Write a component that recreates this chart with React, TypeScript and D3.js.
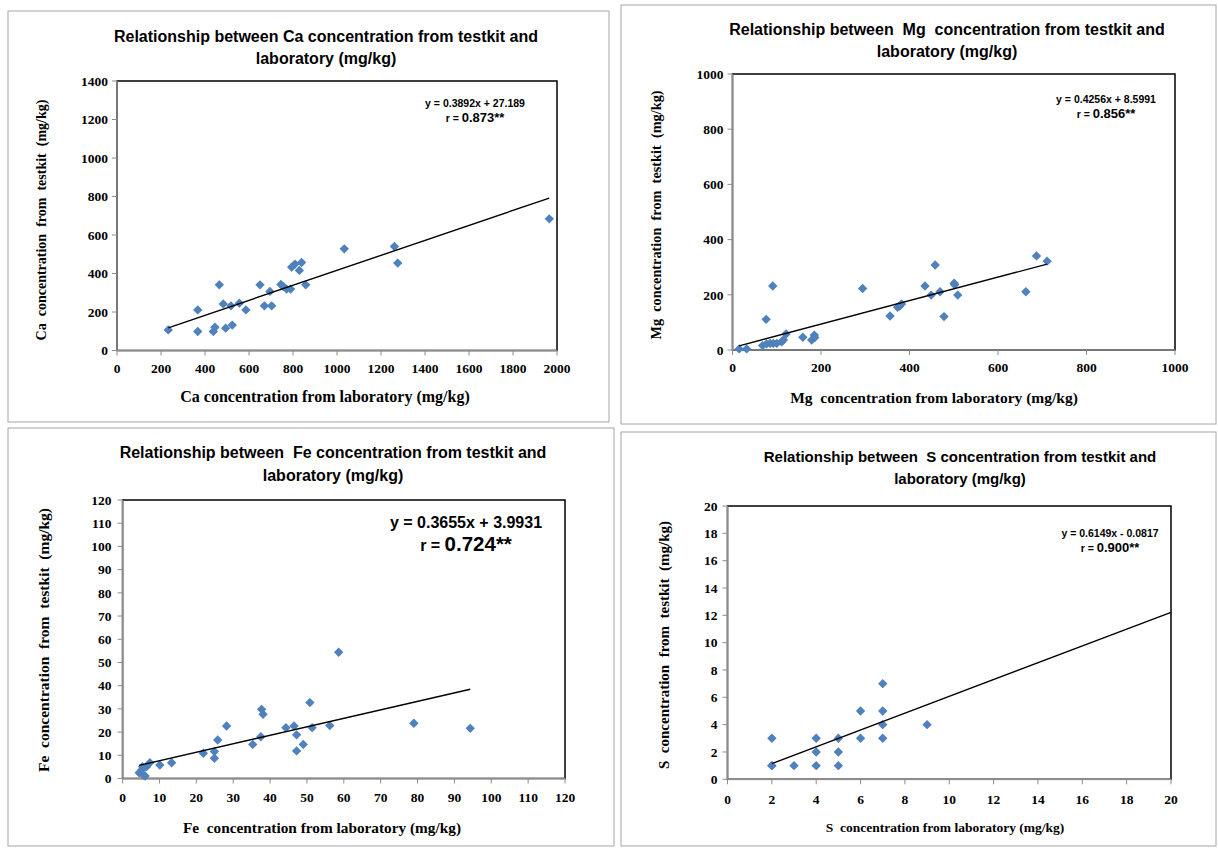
import React from "react";
import * as d3 from "d3";

// Ca (mg/kg)
const caLab = [233, 367, 367, 465, 438, 445, 483, 494, 518, 524, 556, 586, 650, 670, 703, 695, 745, 756, 771, 789, 794, 809, 829, 839, 858, 1033, 1261, 1276, 1965];
const caKit = [107, 99, 211, 341, 99, 121, 242, 116, 232, 132, 246, 211, 341, 232, 232, 307, 343, 333, 319, 319, 433, 449, 416, 457, 341, 528, 540, 454, 684];
const caFit = [0.3892, 27.189];
const caXTicks = [0, 200, 400, 600, 800, 1000, 1200, 1400, 1600, 1800, 2000];
const caYTicks = [0, 200, 400, 600, 800, 1000, 1200, 1400];

// Mg (mg/kg)
const mgLab = [15, 32, 68, 77, 85, 92, 100, 111, 115, 121, 76, 91, 159, 179, 185, 186, 294, 356, 373, 378, 382, 435, 449, 458, 469, 478, 501, 502, 509, 663, 687, 711];
const mgKit = [4, 4, 16, 22, 24, 24, 24, 30, 36, 58, 111, 232, 46, 36, 54, 45, 223, 123, 155, 159, 167, 232, 199, 308, 211, 121, 242, 236, 199, 211, 341, 322];
const mgFit = [0.4256, 8.5991];
const mgXTicks = [0, 200, 400, 600, 800, 1000];
const mgYTicks = [0, 200, 400, 600, 800, 1000];

// Fe (mg/kg)
const feLab = [4.5, 5.2, 5.6, 6.1, 5.4, 6.5, 7.4, 10.1, 13.3, 21.9, 24.9, 24.9, 25.8, 28.2, 35.3, 37.5, 37.7, 38.1, 44.3, 46.5, 47.2, 47.2, 49, 50.8, 51.4, 56.2, 58.6, 79, 94.3];
const feKit = [2.5, 3.7, 1.5, 1.1, 5.1, 5.1, 6.8, 5.8, 6.8, 10.9, 11.6, 8.7, 16.6, 22.6, 14.7, 18, 29.8, 27.7, 21.9, 22.6, 18.8, 11.9, 14.7, 32.7, 21.9, 22.8, 54.4, 23.8, 21.6];
const feFit = [0.3655, 3.9931];
const feXTicks = [0, 10, 20, 30, 40, 50, 60, 70, 80, 90, 100, 110, 120];
const feYTicks = [0, 10, 20, 30, 40, 50, 60, 70, 80, 90, 100, 110, 120];

// S (mg/kg)
const sLab = [2, 2, 2, 3, 4, 4, 4, 5, 5, 5, 6, 6, 7, 7, 7, 7, 9];
const sKit = [1, 1, 3, 1, 1, 2, 3, 1, 2, 3, 3, 5, 3, 4, 5, 7, 4];
const sFit = [0.6149, -0.0817];
const sFitRange = [2, 20]; // trendline carried forward to the axis end
const sXTicks = [0, 2, 4, 6, 8, 10, 12, 14, 16, 18, 20];
const sYTicks = [0, 2, 4, 6, 8, 10, 12, 14, 16, 18, 20];

const serif = "'Liberation Serif', 'Times New Roman', serif";
const sans = "'Liberation Sans', Arial, sans-serif";
const marker = d3.symbol().type(d3.symbolSquare).size(44)();

type PanelProps = {
  box: number[];
  plot: { left: number; right: number; top: number; bottom: number };
  xTicks: number[];
  yTicks: number[];
  xs: number[];
  ys: number[];
  fit: number[];
  fitRange?: number[];
  title: string[];
  titleX: number;
  titleY: number[];
  titleSize: number;
  xLabel: string;
  xLabelPos: number[];
  xLabelSize: number;
  yLabel: string;
  yLabelPos: number[];
  yLabelSize: number;
  eq: string[];
  eqPos: number[];
  eqSizes: number[];
  yLabOff: number;
  xLabOff: number;
};

const Panel = (p: PanelProps) => {
  const { plot } = p;
  const x = d3.scaleLinear().domain(d3.extent(p.xTicks) as [number, number]).range([plot.left, plot.right]);
  const y = d3.scaleLinear().domain(d3.extent(p.yTicks) as [number, number]).range([plot.bottom, plot.top]);
  const [x0, x1] = p.fitRange || (d3.extent(p.xs) as [number, number]);
  const line = d3.line<number>().x((d) => x(d)).y((d) => y(p.fit[0] * d + p.fit[1]));
  const axisColor = "#8c8c8c";

  return (
    <g>
      <rect x={p.box[0]} y={p.box[1]} width={p.box[2] - p.box[0]} height={p.box[3] - p.box[1]} fill="white" stroke="#a6a6a6" strokeWidth={1} />
      <g fontFamily={sans} fontWeight="bold" fontSize={p.titleSize} textAnchor="middle" fill="#000">
        {p.title.map((t, i) => (
          <text key={i} x={p.titleX} y={p.titleY[i]} style={{ whiteSpace: "pre" }}>{t}</text>
        ))}
      </g>
      <rect x={plot.left} y={plot.top} width={plot.right - plot.left} height={plot.bottom - plot.top} fill="white" stroke="#000" strokeWidth={1.5} />
      <line x1={plot.left} x2={plot.left} y1={plot.top} y2={plot.bottom} stroke={axisColor} strokeWidth={1.5} />
      <line x1={plot.left} x2={plot.right} y1={plot.bottom} y2={plot.bottom} stroke={axisColor} strokeWidth={1.5} />
      <g fontFamily={serif} fontWeight="bold" fontSize={13.5}>
        {p.yTicks.map((t) => (
          <g key={"y" + t}>
            <line x1={plot.left - 5} x2={plot.left} y1={y(t)} y2={y(t)} stroke={axisColor} />
            <text x={plot.left - p.yLabOff} y={y(t)} dy="0.35em" textAnchor="end">{t}</text>
          </g>
        ))}
        {p.xTicks.map((t) => (
          <g key={"x" + t}>
            <line x1={x(t)} x2={x(t)} y1={plot.bottom} y2={plot.bottom + 5} stroke={axisColor} />
            <text x={x(t)} y={plot.bottom + p.xLabOff} textAnchor="middle">{t}</text>
          </g>
        ))}
      </g>
      <g fontFamily={serif} fontWeight="bold" textAnchor="middle">
        <text x={p.xLabelPos[0]} y={p.xLabelPos[1]} fontSize={p.xLabelSize} style={{ whiteSpace: "pre" }}>{p.xLabel}</text>
        <text transform={`translate(${p.yLabelPos[0]},${p.yLabelPos[1]}) rotate(-90)`} fontSize={p.yLabelSize} style={{ whiteSpace: "pre" }}>{p.yLabel}</text>
      </g>
      {p.xs.map((d, i) => (
        <path key={i} d={marker} transform={`translate(${x(d)},${y(p.ys[i])}) rotate(45)`} fill="#4f81bd" />
      ))}
      <path d={line([x0, x1]) || ""} fill="none" stroke="#000" strokeWidth={1.4} />
      <g fontFamily={sans} fontWeight="bold" textAnchor="middle" fill="#000">
        <text x={p.eqPos[0]} y={p.eqPos[1]} fontSize={p.eqSizes[0]}>{p.eq[0]}</text>
        <text x={p.eqPos[0]} y={p.eqPos[2]} fontSize={p.eqSizes[0]}>
          {p.eq[1]}
          <tspan fontSize={p.eqSizes[1]}>{p.eq[2]}</tspan>
        </text>
      </g>
    </g>
  );
};

const App = () => {
  return (
    <svg width={1218} height={850} style={{ position: "absolute", left: 0, top: 0, background: "white" }}>
      <rect width={1218} height={850} fill="white" />
      <Panel
        box={[8, 11, 609, 422]}
        plot={{ left: 117, right: 557, top: 81, bottom: 350.5 }}
        xTicks={caXTicks}
        yTicks={caYTicks}
        xs={caLab}
        ys={caKit}
        fit={caFit}
        title={["Relationship between Ca concentration from testkit and", "laboratory (mg/kg)"]}
        titleX={326}
        titleY={[42, 64]}
        titleSize={16}
        xLabel="Ca concentration from laboratory (mg/kg)"
        xLabelPos={[325, 402]}
        xLabelSize={16}
        yLabel="Ca  concentration  from  testkit  (mg/kg)"
        yLabelPos={[46, 220]}
        yLabelSize={14}
        eq={["y = 0.3892x + 27.189", "r = ", "0.873**"]}
        eqPos={[475, 107, 122]}
        eqSizes={[10.5, 13]}
        yLabOff={9}
        xLabOff={22}
      />
      <Panel
        box={[621, 5, 1216, 424]}
        plot={{ left: 732.5, right: 1175, top: 74, bottom: 350 }}
        xTicks={mgXTicks}
        yTicks={mgYTicks}
        xs={mgLab}
        ys={mgKit}
        fit={mgFit}
        title={["Relationship between  Mg  concentration from testkit and", "laboratory (mg/kg)"]}
        titleX={947}
        titleY={[35, 57]}
        titleSize={16}
        xLabel="Mg  concentration from laboratory (mg/kg)"
        xLabelPos={[934, 403]}
        xLabelSize={15.5}
        yLabel="Mg  concentration  from  testkit  (mg/kg)"
        yLabelPos={[661, 215]}
        yLabelSize={14.3}
        eq={["y = 0.4256x + 8.5991", "r = ", "0.856**"]}
        eqPos={[1106, 103, 118]}
        eqSizes={[10.5, 13]}
        yLabOff={9}
        xLabOff={22}
      />
      <Panel
        box={[8, 428, 614, 846]}
        plot={{ left: 122.6, right: 565, top: 500, bottom: 778.5 }}
        xTicks={feXTicks}
        yTicks={feYTicks}
        xs={feLab}
        ys={feKit}
        fit={feFit}
        title={["Relationship between  Fe concentration from testkit and", "laboratory (mg/kg)"]}
        titleX={333}
        titleY={[458, 481]}
        titleSize={16}
        xLabel="Fe  concentration from laboratory (mg/kg)"
        xLabelPos={[322, 833]}
        xLabelSize={15.3}
        yLabel="Fe  concentration  from  testkit  (mg/kg)"
        yLabelPos={[49, 640]}
        yLabelSize={15.5}
        eq={["y = 0.3655x + 3.9931", "r = ", "0.724**"]}
        eqPos={[466, 528, 551]}
        eqSizes={[16, 20.5]}
        yLabOff={11}
        xLabOff={23}
      />
      <Panel
        box={[621, 432, 1216, 846]}
        plot={{ left: 727.5, right: 1171, top: 506, bottom: 779.3 }}
        xTicks={sXTicks}
        yTicks={sYTicks}
        xs={sLab}
        ys={sKit}
        fit={sFit}
        fitRange={sFitRange}
        title={["Relationship between  S concentration from testkit and", "laboratory (mg/kg)"]}
        titleX={960}
        titleY={[462, 484]}
        titleSize={15}
        xLabel="S  concentration from laboratory (mg/kg)"
        xLabelPos={[945, 832]}
        xLabelSize={13.5}
        yLabel="S  concentration  from  testkit  (mg/kg)"
        yLabelPos={[669, 645]}
        yLabelSize={15}
        eq={["y = 0.6149x - 0.0817", "r = ", "0.900**"]}
        eqPos={[1110, 537, 552]}
        eqSizes={[10.5, 13]}
        yLabOff={10}
        xLabOff={25}
      />
    </svg>
  );
};

export default App;
